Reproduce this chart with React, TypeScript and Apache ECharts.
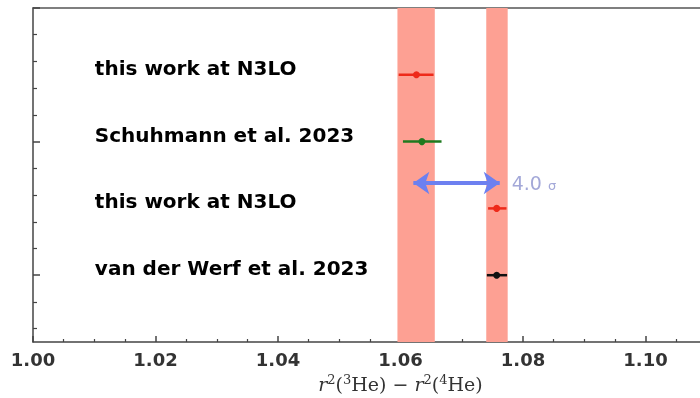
import React, { useEffect, useRef } from "react";
import * as echarts from "echarts";

// ---- data ----
const rowNames = ["van der Werf et al. 2023", "this work at N3LO", "Schuhmann et al. 2023", "this work at N3LO"];
const rowY = [0, 0.5, 1, 1.5];
const centers = [1.0757, 1.0757, 1.0635, 1.0626];
const lows = [1.0741, 1.0743, 1.0604, 1.0597];
const highs = [1.0774, 1.0773, 1.0667, 1.0654];
const rowColors = ["#111111", "#ee2a1a", "#1f7a1f", "#ee2a1a"];

const bandLow = [1.0595, 1.074];
const bandHigh = [1.0656, 1.0775];

const arrowFrom = [1.0621, 0.69];
const arrowTo = [1.0762, 0.69];
const arrowLabel = "4.0";

const xTickLabels = [1.0, 1.02, 1.04, 1.06, 1.08, 1.1];
const yMajorTicks = [0, 1, 2];
const yMinorTicks = [-0.4, -0.2, 0.2, 0.4, 0.6, 0.8, 1.2, 1.4, 1.6, 1.8];

const LABEL_X = 1.0101;

export default function App() {
  const ref = useRef<HTMLDivElement>(null);
  useEffect(() => {
    if (!ref.current) return;
    const chart = echarts.init(ref.current, undefined, { renderer: "svg" });
    const axisColor = "#444";
    const option: any = {
      animation: false,
      grid: { left: 33, top: 8, bottom: 56, right: -68, outerBoundsMode: "none", containLabel: false },
      xAxis: [
        {
          type: "value",
          min: 1.0,
          max: 1.12,
          interval: 0.02,
          axisLine: { show: true, onZero: false, lineStyle: { color: axisColor, width: 1.5 } },
          axisTick: { show: true, inside: true, length: 6, lineStyle: { color: axisColor, width: 1.5 } },
          minorTick: { show: true, splitNumber: 4, length: 3, lineStyle: { color: axisColor, width: 1.2 } },
          splitLine: { show: false },
          axisLabel: {
            color: "#333",
            fontFamily: "DejaVu Sans",
            fontWeight: "bold",
            fontSize: 18,
            margin: 8,
            customValues: xTickLabels,
            formatter: (v: number) => v.toFixed(2),
          },
          name: "{i|r}{sup|2}{n|(}{sup|3}{n|He) − }{i|r}{sup|2}{n|(}{sup|4}{n|He)}",
          nameLocation: "middle",
          nameGap: 28,
          nameTextStyle: {
            rich: {
              i: { fontFamily: "DejaVu Serif", fontStyle: "italic", fontSize: 19, color: "#333" },
              n: { fontFamily: "DejaVu Serif", fontSize: 19, color: "#333" },
              sup: { fontFamily: "DejaVu Serif", fontSize: 13, color: "#333", padding: [0, 0, 9, 0] },
            },
          },
        },
        {
          type: "value",
          position: "top",
          min: 1.0,
          max: 1.12,
          interval: 0.02,
          axisLine: { show: true, onZero: false, lineStyle: { color: "#555", width: 1.5 } },
          axisTick: { show: false },
          axisLabel: { show: false },
          splitLine: { show: false },
        },
      ],
      yAxis: [
        {
          type: "value",
          min: -0.5,
          max: 2,
          position: "left",
          axisLine: { show: true, onZero: false, lineStyle: { color: axisColor, width: 1.5 } },
          axisTick: { show: true, inside: true, length: 7, customValues: yMajorTicks, lineStyle: { color: axisColor, width: 1.5 } },
          axisLabel: { show: false },
          splitLine: { show: false },
        },
        {
          type: "value",
          min: -0.5,
          max: 2,
          position: "left",
          axisLine: { show: false, onZero: false },
          axisTick: { show: true, inside: true, length: 4, customValues: yMinorTicks, lineStyle: { color: axisColor, width: 1.2 } },
          axisLabel: { show: false },
          splitLine: { show: false },
        },
      ],
      series: [
        {
          type: "line",
          data: [],
          z: 1,
          markArea: {
            silent: true,
            itemStyle: { color: "#fda093" },
            data: bandLow.map((lo, i) => [{ xAxis: lo }, { xAxis: bandHigh[i] }]),
          },
          markLine: {
            silent: true,
            symbol: ["arrow", "arrow"],
            symbolSize: [17, 16],
            lineStyle: { color: "#6d80f0", width: 4, type: "solid" },
            label: {
              show: true,
              position: "end",
              distance: 12,
              formatter: arrowLabel + " {s|σ}",
              color: "#a3a8d8",
              fontFamily: "DejaVu Sans",
              fontSize: 19,
              rich: { s: { fontSize: 13, color: "#a3a8d8", fontFamily: "DejaVu Sans", padding: [4, 0, 0, 0] } },
            },
            data: [[{ coord: arrowFrom }, { coord: arrowTo }]],
          },
        },
        {
          type: "custom",
          z: 3,
          encode: { x: [0, 1, 2], y: 3 },
          data: lows.map((lo, i) => [lo, highs[i], centers[i], rowY[i]]),
          renderItem: (params: any, api: any) => {
            const y = api.value(3);
            const p0 = api.coord([api.value(0), y]);
            const p1 = api.coord([api.value(1), y]);
            const pc = api.coord([api.value(2), y]);
            const color = rowColors[params.dataIndex];
            return {
              type: "group",
              children: [
                { type: "line", shape: { x1: p0[0], y1: p0[1], x2: p1[0], y2: p1[1] }, style: { stroke: color, lineWidth: 2.5 } },
                { type: "circle", shape: { cx: pc[0], cy: pc[1], r: 3.5 }, style: { fill: color } },
              ],
            };
          },
        },
        {
          type: "scatter",
          z: 4,
          symbolSize: 0,
          data: rowY.map((y) => [LABEL_X, y]),
          label: {
            show: true,
            position: "right",
            distance: 0,
            offset: [0, -7],
            formatter: (p: any) => rowNames[p.dataIndex],
            fontFamily: "DejaVu Sans",
            fontWeight: "bold",
            fontSize: 20,
            color: "#000",
            opacity: 1,
          },
        },
      ],
    };
    chart.setOption(option);
    return () => chart.dispose();
  }, []);
  return <div ref={ref} style={{ position: "fixed", left: 0, top: 0, width: 700, height: 398 }} />;
}
